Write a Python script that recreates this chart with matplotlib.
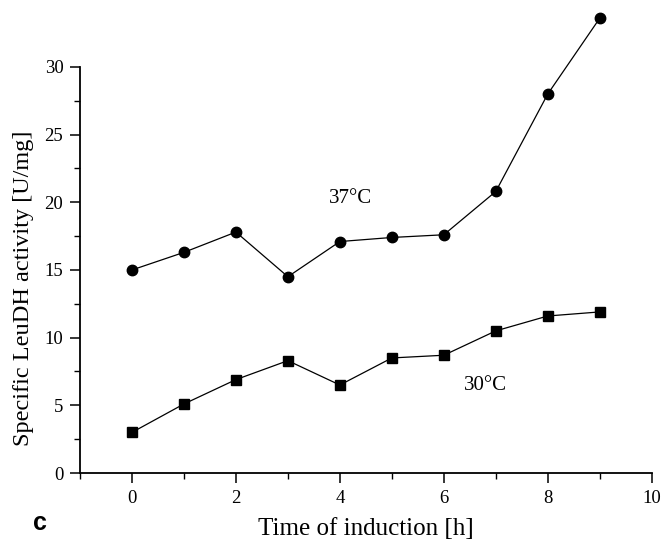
import matplotlib
matplotlib.use("Agg")
import matplotlib.pyplot as plt
from matplotlib.ticker import MultipleLocator

plt.rcParams["font.family"] = "Liberation Serif"

hours = [0, 1, 2, 3, 4, 5, 6, 7, 8, 9]
act_37 = [15.0, 16.3, 17.8, 14.5, 17.1, 17.4, 17.6, 20.8, 28.0, 33.6]
act_30 = [3.0, 5.1, 6.9, 8.3, 6.5, 8.5, 8.7, 10.5, 11.6, 11.9]

fig = plt.figure(figsize=(6.61, 5.44), dpi=100)
ax = fig.add_axes([0.121, 0.1305, 0.865, 0.7465])

ax.plot(hours, act_37, color="black", lw=0.9, marker="o", ms=7.5, clip_on=False)
ax.plot(hours, act_30, color="black", lw=0.9, marker="s", ms=7, clip_on=False)

ax.text(4.2, 20.3, "37°C", fontsize=15, ha="center", va="center")
ax.text(6.8, 6.5, "30°C", fontsize=15, ha="center", va="center")

ax.set_xlim(-1, 10)
ax.set_ylim(0, 30)
ax.xaxis.set_major_locator(MultipleLocator(2))
ax.xaxis.set_minor_locator(MultipleLocator(1))
ax.yaxis.set_major_locator(MultipleLocator(5))
ax.yaxis.set_minor_locator(MultipleLocator(2.5))
ax.set_xticks([0, 2, 4, 6, 8, 10])

for side in ["top", "right"]:
    ax.spines[side].set_visible(False)
for side in ["left", "bottom"]:
    ax.spines[side].set_linewidth(1.3)

ax.tick_params(which="major", direction="out", length=7, width=1.1, labelsize=13.5, pad=5)
ax.tick_params(which="minor", direction="out", length=4, width=1.0)

ax.set_xlabel("Time of induction [h]", fontsize=18, labelpad=8)
ax.set_ylabel("Specific LeuDH activity [U/mg]", fontsize=17.5)
ax.yaxis.set_label_coords(-0.081, 0.455)

fig.text(0.06, 0.038, "c", fontsize=18, fontweight="bold", family="Liberation Sans",
         ha="center", va="center")

fig.savefig("out.png", dpi=100)
